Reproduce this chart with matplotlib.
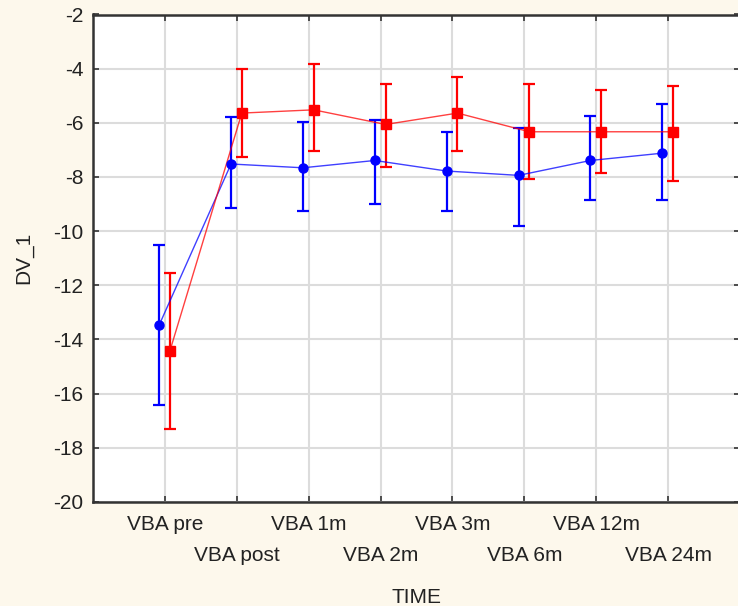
import numpy as np
import matplotlib
matplotlib.use('Agg')
import matplotlib.pyplot as plt

# category labels along the time axis
timeLabels = ['VBA pre', 'VBA post', 'VBA 1m', 'VBA 2m', 'VBA 3m', 'VBA 6m', 'VBA 12m', 'VBA 24m']

# group 1 (blue circles): means and error bar ends
blueMean = [-13.47, -7.52, -7.66, -7.39, -7.78, -7.94, -7.39, -7.12]
blueUpper = [-10.52, -5.79, -5.96, -5.88, -6.33, -6.20, -5.73, -5.31]
blueLower = [-16.43, -9.13, -9.26, -8.99, -9.26, -9.80, -8.85, -8.85]

# group 2 (red squares)
redMean = [-14.42, -5.64, -5.52, -6.06, -5.64, -6.33, -6.33, -6.33]
redUpper = [-11.56, -4.00, -3.84, -4.58, -4.29, -4.58, -4.79, -4.64]
redLower = [-17.30, -7.25, -7.05, -7.64, -7.05, -8.06, -7.84, -8.15]

bgColor = '#fdf8ec'
plt.rcParams['font.family'] = ['Liberation Sans', 'DejaVu Sans']
plt.rcParams['axes.unicode_minus'] = False  # plain hyphens like the original

fig = plt.figure(figsize=(7.38, 6.06), dpi=100, facecolor=bgColor)
ax = fig.add_axes([93 / 738, 1 - 502 / 606, 647 / 738, 487.5 / 606])
ax.set_facecolor('white')

x = np.arange(len(timeLabels))


def drawGroup(offset, mean, upper, lower, color, marker, msize):
    mean = np.array(mean)
    err = [mean - np.array(lower), np.array(upper) - mean]
    ax.errorbar(x + offset, mean, yerr=err, fmt='none', ecolor=color,
                elinewidth=1.6, capsize=4.2, capthick=1.6, zorder=3)
    ax.plot(x + offset, mean, color=color, lw=1.0, alpha=0.75, zorder=4)
    ax.plot(x + offset, mean, linestyle='none', marker=marker, ms=msize,
            color=color, mec=color, zorder=5)


drawGroup(-0.08, blueMean, blueUpper, blueLower, '#0000ff', 'o', 6.5)
drawGroup(0.07, redMean, redUpper, redLower, '#ff0000', 's', 7)

ax.set_xlim(-1, 8)
ax.set_ylim(-20, -2)
ax.set_yticks(np.arange(-20, -1, 2))
ax.set_xticks(x)
ax.set_xticklabels(timeLabels)

ax.grid(True, color='#dcdcdc', lw=1.5)
ax.set_axisbelow(True)

ax.tick_params(direction='in', length=4, width=1.2, color='#333333',
               top=True, right=True, labelsize=15, labelcolor='#222222')
ax.tick_params(axis='x', pad=9)
ax.tick_params(axis='y', pad=7)

# stagger every second label onto a lower row
for i, tick in enumerate(ax.xaxis.get_major_ticks()):
    if i % 2 == 1:
        tick.set_pad(9 + 23)

for side in ['left', 'bottom', 'top', 'right']:
    ax.spines[side].set_color('#333333')
    ax.spines[side].set_linewidth(1.8)

ax.set_xlabel('TIME', fontsize=15, color='#222222', labelpad=16)
ax.set_ylabel('DV_1', fontsize=15, color='#222222', labelpad=14)

fig.savefig('out.png', dpi=100, facecolor=bgColor)
